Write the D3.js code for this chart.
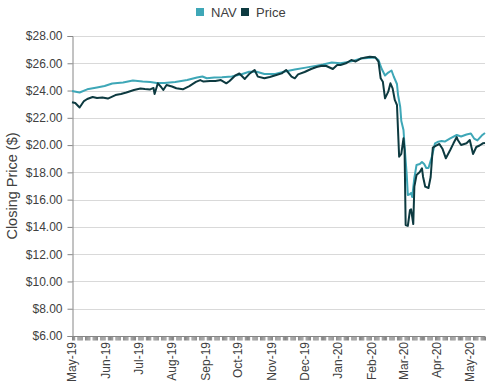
<!DOCTYPE html>
<html lang="en">
  <head>
    <meta charset="UTF-8" />
    <title>NAV vs Price</title>
    <style>
      body { margin: 0; background: #fff; }
      text { font-family: "Liberation Sans", Arial, sans-serif; }
      .grid line { stroke: #d9d9d9; }
      .axis path, .axis line { stroke: #868686; }
    </style>
  </head>
  <body>
    <div id="wrapper"></div>
    <script src="https://d3js.org/d3.v7.min.js"></script>
    <script>
      // NAV series (date, closing NAV)
      var navDates = ["2019-05-01","2019-05-08","2019-05-15","2019-05-24","2019-05-31","2019-06-07","2019-06-17","2019-06-26",
        "2019-07-05","2019-07-12","2019-07-18","2019-07-25","2019-08-04","2019-08-15","2019-08-24","2019-08-29",
        "2019-09-02","2019-09-09","2019-09-16","2019-09-25","2019-10-04","2019-10-11","2019-10-18","2019-10-25",
        "2019-11-04","2019-11-13","2019-11-22","2019-12-02","2019-12-11","2019-12-18","2019-12-26","2020-01-03",
        "2020-01-13","2020-01-22","2020-01-28","2020-02-04","2020-02-07","2020-02-10","2020-02-13","2020-02-16",
        "2020-02-19","2020-02-21","2020-02-24","2020-02-25","2020-02-27","2020-02-28","2020-03-01","2020-03-02",
        "2020-03-04","2020-03-05","2020-03-07","2020-03-08","2020-03-09","2020-03-11","2020-03-13","2020-03-16",
        "2020-03-18","2020-03-20","2020-03-22","2020-03-24","2020-03-27","2020-03-30","2020-04-02","2020-04-05",
        "2020-04-08","2020-04-13","2020-04-19","2020-04-23","2020-04-28","2020-05-02","2020-05-05","2020-05-08",
        "2020-05-12","2020-05-15"];
      var navValues = [23.97,23.86,24.09,24.22,24.33,24.52,24.59,24.74,
        24.66,24.63,24.55,24.55,24.63,24.77,24.96,25.03,
        24.90,24.96,24.97,25.03,25.19,25.38,25.38,25.21,
        25.21,25.40,25.54,25.68,25.81,25.91,26.06,26.00,
        26.14,26.35,26.39,26.42,26.24,25.58,25.10,25.32,
        25.47,25.03,24.48,23.67,22.79,21.77,21.11,19.93,
        17.81,16.34,16.41,16.49,16.19,17.59,18.54,18.61,
        18.76,18.61,18.32,18.32,19.13,20.13,20.25,20.30,
        20.26,20.50,20.74,20.63,20.78,20.85,20.48,20.34,
        20.70,20.89];

      // Market price series (date, closing price)
      var priceDates = ["2019-05-01","2019-05-04","2019-05-08","2019-05-12","2019-05-15","2019-05-20","2019-05-24","2019-05-29",
        "2019-06-03","2019-06-10","2019-06-15","2019-06-20","2019-06-27","2019-07-03","2019-07-07","2019-07-12",
        "2019-07-15","2019-07-16","2019-07-19","2019-07-22","2019-07-24","2019-07-27","2019-08-01","2019-08-05",
        "2019-08-11","2019-08-17","2019-08-23","2019-08-27","2019-08-30","2019-09-05","2019-09-10","2019-09-15",
        "2019-09-20","2019-09-23","2019-09-28","2019-10-02","2019-10-07","2019-10-11","2019-10-16","2019-10-19",
        "2019-10-25","2019-10-30","2019-11-05","2019-11-10","2019-11-14","2019-11-19","2019-11-22","2019-11-25",
        "2019-12-01","2019-12-07","2019-12-12","2019-12-17","2019-12-21","2019-12-27","2019-12-31","2020-01-03",
        "2020-01-08","2020-01-13","2020-01-17","2020-01-22","2020-01-26","2020-01-30","2020-02-04","2020-02-07",
        "2020-02-09","2020-02-11","2020-02-13","2020-02-16","2020-02-18","2020-02-20","2020-02-22","2020-02-24",
        "2020-02-26","2020-02-28","2020-03-01","2020-03-02","2020-03-03","2020-03-05","2020-03-07","2020-03-08",
        "2020-03-10","2020-03-11","2020-03-13","2020-03-16","2020-03-18","2020-03-19","2020-03-21","2020-03-24",
        "2020-03-26","2020-03-28","2020-03-31","2020-04-03","2020-04-06","2020-04-09","2020-04-13","2020-04-16",
        "2020-04-19","2020-04-20","2020-04-23","2020-04-28","2020-05-01","2020-05-04","2020-05-07","2020-05-10",
        "2020-05-13","2020-05-15"];
      var priceValues = [23.14,23.09,22.76,23.23,23.38,23.53,23.45,23.49,
        23.41,23.67,23.75,23.86,24.04,24.15,24.11,24.08,
        24.19,23.75,24.53,24.26,24.04,24.41,24.30,24.17,
        24.09,24.33,24.63,24.77,24.66,24.70,24.70,24.77,
        24.53,24.70,25.09,25.25,24.85,25.21,25.51,25.02,
        24.90,24.99,25.14,25.26,25.51,25.02,24.90,25.19,
        25.36,25.58,25.73,25.82,25.80,25.58,25.87,25.87,
        26.00,26.24,26.13,26.36,26.42,26.48,26.44,26.12,
        24.90,24.65,23.43,23.92,24.53,24.16,23.31,22.94,
        19.15,19.35,20.50,19.64,14.14,14.07,15.24,15.29,
        14.21,16.95,17.81,18.03,18.30,17.68,16.95,16.85,
        17.66,19.82,19.96,20.08,19.71,19.03,19.64,20.13,
        20.59,20.37,20.01,20.13,20.37,19.35,19.86,19.97,
        20.13,20.15];

      var monthLabels = ["May-19","Jun-19","Jul-19","Aug-19","Sep-19","Oct-19","Nov-19",
        "Dec-19","Jan-20","Feb-20","Mar-20","Apr-20","May-20"];
      var yTicks = [6, 8, 10, 12, 14, 16, 18, 20, 22, 24, 26, 28];
      var seriesNames = ["NAV", "Price"];
      var seriesColors = ["#3ea7b7", "#0d3a40"];

      var parseDate = d3.timeParse("%Y-%m-%d");
      var parseMonth = d3.timeParse("%b-%y");

      var margin = {top: 36, right: 9, bottom: 55, left: 72},
          width = 494 - margin.left - margin.right,
          height = 391 - margin.top - margin.bottom;

      var svg = d3.select("#wrapper").append("svg")
          .attr("width", 494)
          .attr("height", 391);

      var g = svg.append("g")
          .attr("transform", "translate(" + margin.left + "," + margin.top + ")");

      var x = d3.scaleTime()
          .domain([parseDate("2019-05-01"), parseDate("2020-05-15")])
          .range([0, width]);
      var y = d3.scaleLinear().domain([6, 28]).range([height, 0]);

      // gridlines
      g.append("g").attr("class", "grid")
        .selectAll("line")
        .data(yTicks.slice(1))
        .enter().append("line")
          .attr("x1", 0).attr("x2", width)
          .attr("y1", function(d) { return Math.round(y(d)) + 0.5; })
          .attr("y2", function(d) { return Math.round(y(d)) + 0.5; });

      // Y axis
      var yAxis = g.append("g").attr("class", "axis")
          .attr("transform", "translate(0.5,0)")
          .call(d3.axisLeft(y).tickValues(yTicks).tickSize(5).tickPadding(5)
            .tickFormat(d3.format("$.2f")));
      yAxis.selectAll("text").attr("fill", "#404040").style("font-size", "12px");

      // X axis: one tick per trading day, labels at month starts
      var days = d3.timeDay.range(x.domain()[0], d3.timeDay.offset(x.domain()[1], 1))
          .filter(function(d) { return d.getDay() !== 0 && d.getDay() !== 6; });
      var xAxis = g.append("g").attr("class", "axis")
          .attr("transform", "translate(0," + (height + 0.5) + ")")
          .call(d3.axisBottom(x).tickValues(days).tickSize(4).tickFormat(""));
      xAxis.select(".domain").attr("d", "M0,0H" + width);

      g.append("g")
        .selectAll("text")
        .data(monthLabels)
        .enter().append("text")
          .attr("transform", function(d) {
            return "translate(" + x(parseMonth(d)) + "," + (height + 6) + ") rotate(-90)";
          })
          .attr("text-anchor", "end")
          .attr("dy", "0.35em")
          .attr("fill", "#404040")
          .style("font-size", "12px")
          .text(function(d) { return d; });

      // Y axis title
      svg.append("text")
        .attr("transform", "translate(12," + (margin.top + height / 2) + ") rotate(-90)")
        .attr("text-anchor", "middle")
        .attr("dy", "0.35em")
        .attr("fill", "#404040")
        .style("font-size", "14.5px")
        .text("Closing Price ($)");

      // lines
      var valueline = d3.line()
          .x(function(d) { return x(d.date); })
          .y(function(d) { return y(d.value); });

      var navData = navDates.map(function(d, i) { return {date: parseDate(d), value: navValues[i]}; });
      var priceData = priceDates.map(function(d, i) { return {date: parseDate(d), value: priceValues[i]}; });

      g.append("path")
          .datum(navData)
          .attr("fill", "none")
          .attr("stroke", seriesColors[0])
          .attr("stroke-width", 2)
          .attr("stroke-linejoin", "round")
          .attr("d", valueline);

      g.append("path")
          .datum(priceData)
          .attr("fill", "none")
          .attr("stroke", seriesColors[1])
          .attr("stroke-width", 2)
          .attr("stroke-linejoin", "round")
          .attr("d", valueline);

      // legend
      var legendX = [196, 241];
      var legend = svg.append("g").selectAll("g")
          .data(seriesNames)
          .enter().append("g")
          .attr("transform", function(d, i) { return "translate(" + legendX[i] + ",8)"; });
      legend.append("rect")
          .attr("width", 8).attr("height", 8)
          .attr("fill", function(d, i) { return seriesColors[i]; });
      legend.append("text")
          .attr("x", 15).attr("y", 8.5)
          .attr("fill", "#404040")
          .style("font-size", "13px")
          .text(function(d) { return d; });
    </script>
  </body>
</html>
